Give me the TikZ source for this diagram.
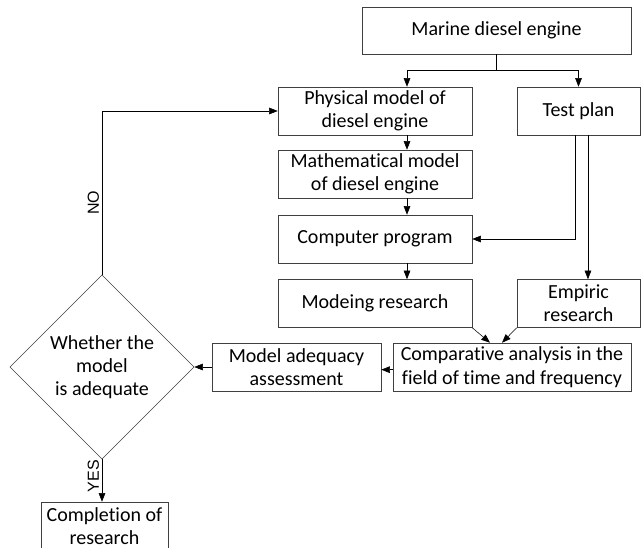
\documentclass[tikz,border=0pt]{standalone}
\usepackage{fontspec}
\setmainfont[Ligatures=NoCommon]{Carlito}
\newfontfamily\labelfont{Liberation Sans}
\usetikzlibrary{shapes.geometric,arrows.meta}

\begin{document}
\begin{tikzpicture}[x=0.75pt,y=-0.75pt,
        every node/.style={font=\fontsize{15}{17.5}\selectfont},
        box/.style={draw=black!75,align=center,inner sep=0pt,minimum height=36pt},
        arr/.style={-{Triangle[length=6.5pt,width=5pt]}},
        yesno/.style={font=\labelfont\fontsize{12}{14}\selectfont,rotate=90,above,inner sep=2pt}]
    \useasboundingbox (0,0) rectangle (641,548);
    % boxes
    \node[box,minimum width=201.75pt,minimum height=35.25pt] (engine) at (496.5,30.5) {Marine diesel engine};
    \node[box,minimum width=145.5pt] (phys) at (375,111) {Physical model of\\diesel engine};
    \node[box,minimum width=92.25pt] (plan) at (578.5,111) {Test plan};
    \node[box,minimum width=145.5pt] (math) at (375,174) {Mathematical model\\of diesel engine};
    \node[box,minimum width=145.5pt] (prog) at (375,239) {Computer program};
    \node[box,minimum width=145.5pt] (modres) at (375,303.5) {Modeing research};
    \node[box,minimum width=92.25pt] (emp) at (578.5,303.5) {Empiric\\research};
    \node[box,minimum width=178.5pt] (comp) at (512,367) {Comparative analysis in the\\field of time and frequency};
    \node[box,minimum width=126.75pt] (adeq) at (296.5,367) {Model adequacy\\assessment};
    \node[draw=black!75,diamond,minimum width=138pt,minimum height=138pt,inner sep=0pt,align=center] (check) at (102,367) {Whether the\\model\\is adequate};
    \node[box,minimum width=95.25pt] (done) at (104.5,526) {Completion of\\research};
    % connectors
    \coordinate (split) at (496.5,70);
    \draw (engine.south) -- (split);
    \draw[arr] (split) -| ([xshift=24pt]phys.north);
    \draw[arr] (split) -| (plan.north);
    \draw[arr] ([xshift=24pt]phys.south) -- ([xshift=24pt]math.north);
    \draw[arr] ([xshift=24pt]math.south) -- ([xshift=24pt]prog.north);
    \draw[arr] ([xshift=24pt]prog.south) -- ([xshift=24pt]modres.north);
    \draw[arr] ([xshift=-2.6pt]plan.south) |- (prog.east);
    \draw[arr] ([xshift=7.1pt]plan.south) -- ([xshift=7.1pt]emp.north);
    \draw[arr] (modres.south east) -- ([xshift=-16.5pt]comp.north);
    \draw[arr] (emp.south west) -- ([xshift=-7.5pt]comp.north);
    \draw[arr] ([yshift=-2pt]comp.west) -- ([yshift=-2pt]adeq.east);
    \draw[arr] (adeq.west) -- (check.east);
    \draw[arr] (check.north) |- node[yesno,pos=0.22] {NO} (phys.west);
    \draw[arr] (check.south) -- node[yesno,pos=0.4] {YES} (check.south |- done.north);
\end{tikzpicture}
\end{document}
